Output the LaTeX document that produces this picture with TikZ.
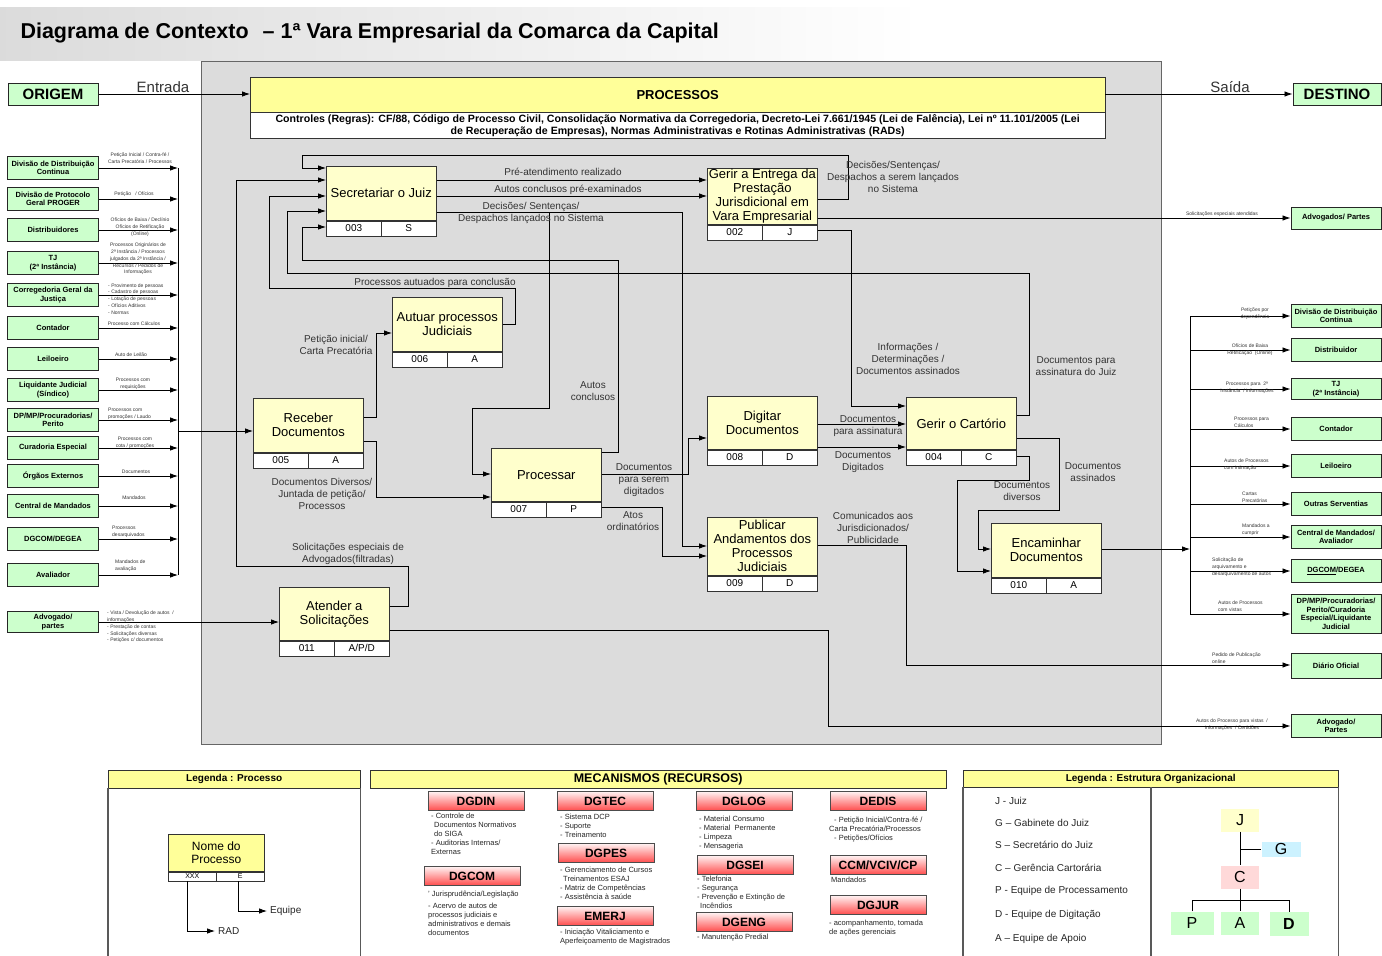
\documentclass[tikz,border=0pt]{standalone}
\usepackage{fontspec}
\setmainfont{Liberation Sans}
\usetikzlibrary{arrows.meta,positioning}

\definecolor{panelgray}{HTML}{DCDCDC}
\definecolor{procfill}{HTML}{FFFFCC}
\definecolor{headfill}{HTML}{FFFF99}
\definecolor{extgreen}{HTML}{CCFFCC}
\definecolor{orgblue}{HTML}{CCF2FF}
\definecolor{orgpink}{HTML}{FFD9D9}

\newcommand{\fsz}[2]{\fontsize{#1}{#2}\selectfont}

\tikzset{
  proc/.style={draw=black!80, fill=procfill, line width=0.6pt, anchor=north west,
    minimum width=110pt, minimum height=54pt, inner sep=0pt, align=center, font=\fsz{13}{14}},
  stripbox/.style={draw=black!80, fill=white, line width=0.6pt, minimum width=55pt,
    minimum height=15pt, inner sep=0pt, font=\fsz{10}{11}},
  extbox/.style={draw=black!85, fill=extgreen, line width=1pt, minimum width=91pt,
    minimum height=23pt, inner sep=1pt, align=center, font=\bfseries\fsz{7.5}{8.5}},
  flow/.style={draw=black, line width=0.8pt, -{Latex[length=8pt,width=5.5pt]}},
  lineonly/.style={draw=black, line width=0.8pt},
  lbl/.style={font=\fsz{10}{12}, text=black!80, align=center, inner sep=0pt},
  tinylbl/.style={font=\fsz{5}{6.8}, text=black!80, align=center, inner sep=0pt},
  headbar/.style={draw=black!80, fill=headfill, anchor=north west, inner sep=0pt,
    font=\bfseries\fsz{10}{11}},
  legline/.style={draw=gray!70!black, line width=1.2pt},
  mech/.style={draw=black!70, top color=red!5, middle color=red!30, bottom color=red!70,
    minimum width=96pt, minimum height=19pt, inner sep=0pt, font=\bfseries\fsz{12}{13}},
  mechtxt/.style={anchor=north west, align=left, inner sep=0pt, font=\fsz{7.5}{9}, text=black!85},
  orgbox/.style={minimum width=38pt, minimum height=23pt, inner sep=0pt, font=\fsz{16}{16}},
  legtxt/.style={anchor=west, inner sep=0pt, font=\fsz{10}{11}, text=black!85},
}

% process box with RAD / team strip below
\newcommand{\procbox}[7]{%
  \node[proc, minimum height=#4] (#1) at (#2,#3) {#5};
  \node[stripbox, anchor=north west] (#1r) at (#1.south west) {#6};
  \node[stripbox, anchor=north east] (#1e) at (#1.south east) {#7};
}

\begin{document}
\begin{tikzpicture}[x=1pt,y=-1pt]
\useasboundingbox (0,0) rectangle (1382,956);
\fill[white] (0,0) rectangle (1382,956);

%% Title
\shade[left color=gray!28, right color=white] (0,7) rectangle (922,60);
\node[anchor=west, font=\bfseries\fsz{21.5}{22}] (title) at (17,33)
  {Diagrama de Contexto\hspace{14pt}– 1ª Vara Empresarial da Comarca da Capital};

%% Grey panel
\filldraw[fill=panelgray, draw=gray!80!black] (201,61) rectangle (1161,744);

% PROCESSOS + controles
\node[headbar, minimum width=855pt, minimum height=35pt, font=\bfseries\fsz{13}{14}] (processos) at (250,77) {PROCESSOS};
\node[draw=black!80, fill=white, anchor=north, minimum width=855pt, minimum height=26pt, inner sep=1pt,
  align=center, font=\bfseries\fsz{10.6}{12}] (controles) at (processos.south)
  {Controles (Regras): CF/88, Código de Processo Civil, Consolidação Normativa da Corregedoria, Decreto-Lei 7.661/1945 (Lei de Falência), Lei nº 11.101/2005 (Lei\\
   de Recuperação de Empresas), Normas Administrativas e Rotinas Administrativas (RADs)};

% origem / destino
\node[extbox, minimum width=90pt, minimum height=22pt, font=\bfseries\fsz{15}{16}] (origem) at (53,94) {ORIGEM};
\node[extbox, minimum width=88pt, minimum height=22pt, font=\bfseries\fsz{15}{16}] (destino) at (1337,94) {DESTINO};
\node[lbl, font=\fsz{15}{16}] (entrada) at (163,87) {Entrada};
\node[lbl, font=\fsz{15}{16}] (saida) at (1230,87) {Saída};
\draw[flow] (origem.east) -- (processos.west|-origem.east);
\draw[flow] (processos.east|-destino.west) -- (destino.west);

%% Processes
\procbox{p003}{326}{166}{54pt}{Secretariar o Juiz}{003}{S}
\procbox{p002}{707}{168}{56pt}{\fsz{13}{13.5}Gerir a Entrega da\\Prestação\\Jurisdicional em\\Vara Empresarial}{002}{J}
\procbox{p006}{392}{297}{54pt}{Autuar processos\\Judiciais}{006}{A}
\procbox{p005}{253}{398}{54pt}{Receber\\Documentos}{005}{A}
\procbox{p007}{491}{448}{53pt}{Processar}{007}{P}
\procbox{p011}{279}{587}{53pt}{Atender a\\Solicitações}{011}{A/P/D}
\procbox{p008}{707}{396}{53pt}{Digitar\\Documentos}{008}{D}
\procbox{p004}{906}{397}{52pt}{Gerir o Cartório}{004}{C}
\procbox{p009}{707}{517}{58pt}{\fsz{13}{13.5}Publicar\\Andamentos dos\\Processos\\Judiciais}{009}{D}
\procbox{p010}{991}{523}{54pt}{Encaminhar\\Documentos}{010}{A}

%% Origins (left)
\node[extbox] (inDivDist) at (53,168) {Divisão de Distribuição\\Continua};
\node[extbox] (inProger) at (53,199) {Divisão de Protocolo\\Geral PROGER};
\node[extbox] (inDistrib) at (53,230) {Distribuidores};
\node[extbox] (inTJ) at (53,263) {TJ\\(2ª Instância)};
\node[extbox] (inCorreg) at (53,295) {Corregedoria Geral da\\Justiça};
\node[extbox] (inContador) at (53,328) {Contador};
\node[extbox] (inLeiloeiro) at (53,359) {Leiloeiro};
\node[extbox] (inLiquid) at (53,390) {Liquidante Judicial\\(Síndico)};
\node[extbox] (inDPMP) at (53,420) {DP/MP/Procuradorias/\\Perito};
\node[extbox] (inCurad) at (53,448) {Curadoria Especial};
\node[extbox] (inOrgaos) at (53,476) {Órgãos Externos};
\node[extbox] (inCentral) at (53,506) {Central de Mandados};
\node[extbox] (inDgcom) at (53,539) {DGCOM/DEGEA};
\node[extbox] (inAval) at (53,575) {Avaliador};
\node[extbox, minimum height=21pt] (inAdv) at (53,622) {Advogado/\\partes};

\coordinate (busLtop) at (178,168);
\coordinate (busLbot) at (178,575);
\draw[lineonly] (busLtop) -- (busLbot);
\foreach \nm in {inDivDist,inProger,inDistrib,inTJ,inCorreg,inContador,inLeiloeiro,inLiquid,
  inDPMP,inCurad,inOrgaos,inCentral,inDgcom,inAval}
  \draw[flow] (\nm.east) -- (\nm.east-|busLtop);
\draw[flow] (busLtop|-0,431) -- (p005.west|-0,431);
\draw[flow] (inAdv.east) -- (p011.west|-inAdv.east);

% left labels
\node[tinylbl] (lbDivDist) at (140,158) {Petição Inicial / Contra-fé /\\Carta Precatória / Processos};
\node[tinylbl] (lbProger) at (134,194) {Petição \ \ / Ofícios};
\node[tinylbl] (lbDistrib) at (140,227) {Ofícios de Baixa / Declínio\\Ofícios de Retificação\\(Online)};
\node[tinylbl] (lbTJ) at (138,259) {Processos Originários de\\2ª Instância / Processos\\julgados da 2ª Instância /\\Recursos / Pedidos de\\Informações};
\node[tinylbl, anchor=west, align=left] (lbCorreg) at (108,299) {- Provimento de pessoas\\- Cadastro de pessoas\\- Lotação de pessoas\\- Ofícios Aditivos\\- Normas};
\node[tinylbl] (lbContador) at (134,324) {Processo com Cálculos};
\node[tinylbl] (lbLeiloeiro) at (131,355) {Auto de Leilão};
\node[tinylbl] (lbLiquid) at (133,384) {Processos com\\requisições};
\node[tinylbl, anchor=west, align=left] (lbDPMP) at (108,414) {Processos com\\promoções / Laudo};
\node[tinylbl] (lbCurad) at (135,443) {Processos com\\cota / promoções};
\node[tinylbl] (lbOrgaos) at (136,472) {Documentos};
\node[tinylbl] (lbCentral) at (134,498) {Mandados};
\node[tinylbl, anchor=west, align=left] (lbDgcom) at (112,532) {Processos\\desarquivados};
\node[tinylbl, anchor=west, align=left] (lbAval) at (115,566) {Mandados de\\avaliação};
\node[tinylbl, anchor=west, align=left] (lbAdv) at (107,627) {- Vista / Devolução de autos \ /\\informações\\- Prestação de contas\\- Solicitações diversas\\- Petições c/ documentos};

%% Destinations (right)
\node[extbox, minimum width=90pt, minimum height=22pt] (outAdvA) at (1336,218) {Advogados/ Partes};
\node[extbox, minimum width=90pt] (outDivDist) at (1336,316) {Divisão de Distribuição\\Continua};
\node[extbox, minimum width=90pt] (outDistrib) at (1336,350) {Distribuidor};
\node[extbox, minimum width=90pt, minimum height=21pt] (outTJ) at (1336,389) {TJ\\(2ª Instância)};
\node[extbox, minimum width=90pt] (outContador) at (1336,429) {Contador};
\node[extbox, minimum width=90pt] (outLeiloeiro) at (1336,466) {Leiloeiro};
\node[extbox, minimum width=90pt] (outOutras) at (1336,504) {Outras Serventias};
\node[extbox, minimum width=90pt] (outCentral) at (1336,537) {Central de Mandados/\\Avaliador};
\node[extbox, minimum width=90pt] (outDgcom) at (1336,571) {\underline{DGCOM}/DEGEA};
\node[extbox, minimum width=90pt, minimum height=39pt] (outDPMP) at (1336,614) {DP/MP/Procuradorias/\\Perito/Curadoria\\Especial/Liquidante\\Judicial};
\node[extbox, minimum width=90pt, minimum height=25pt] (outDiario) at (1336,666) {Diário Oficial};
\node[extbox, minimum width=90pt] (outAdvB) at (1336,726) {Advogado/\\Partes};

\coordinate (busRtop) at (1190,316);
\coordinate (busRbot) at (1190,614);
\draw[lineonly] (busRtop) -- (busRbot);
\foreach \nm in {outDivDist,outDistrib,outTJ,outContador,outLeiloeiro,outOutras,outCentral,outDgcom,outDPMP}
  \draw[flow] (busRtop|-\nm.west) -- (\nm.west);

% right labels
\node[tinylbl] (lbrAdvA) at (1222,214) {Solicitações especiais atendidas};
\node[tinylbl] (lbrDivDist) at (1255,314) {Petições por\\dependência};
\node[tinylbl] (lbrDistrib) at (1250,350) {Ofícios de Baixa\\Retificação \ (Online)};
\node[tinylbl] (lbrTJ) at (1247,388) {Processos para \ 2ª\\Instância \ / Informações};
\node[tinylbl, anchor=west, align=left] (lbrContador) at (1234,422) {Processos para\\Cálculos};
\node[tinylbl, anchor=west, align=left] (lbrLeiloeiro) at (1224,465) {Autos de Processos\\com intimação};
\node[tinylbl, anchor=west, align=left] (lbrOutras) at (1242,497) {Cartas\\Precatórias};
\node[tinylbl, anchor=west, align=left] (lbrCentral) at (1242,530) {Mandados a\\cumprir};
\node[tinylbl, anchor=west, align=left] (lbrDgcom) at (1212,567) {Solicitação de\\arquivamento e\\desarquivamento de autos};
\node[tinylbl, anchor=west, align=left] (lbrDPMP) at (1218,606) {Autos de Processos\\com vistas};
\node[tinylbl, anchor=west, align=left] (lbrDiario) at (1212,658) {Pedido de Publicação\\online};
\node[tinylbl] (lbrAdvB) at (1232,725) {Autos do Processo para vistas \ /\\Informações \ / Certidões};

%% Internal flows
% 002 -> 003 (loop over the top)
\draw[flow] (p002.east|-0,199) -| (848,155) -| (302,168) -- (p003.west|-0,168);
% 011 -> 003
\draw[flow] (p011.east|-0,606) -| (408,566) -| (236,180) -- (p003.west|-0,180);
% 006 -> 003
\draw[flow] (p006.east|-0,324) -| (515,288) -| (269,196) -- (p003.west|-0,196);
% 004 -> 003
\draw[flow] (p004.east|-0,415) -| (1029,273) -| (287,211) -- (p003.west|-0,211);
% 007 -> 003
\draw[flow] (p007.east|-0,452) -| (618,260) -| (302,227) -- (p003.west|-0,227);
% 003 -> 002
\draw[flow] (p003.east|-0,180) -- (p002.west|-0,180);
\draw[flow] (p003.east|-0,196) -- (p002.west|-0,196);
% 003 -> 009 / 007
\draw[flow] (p003.east|-0,212) -| (682,546) -- (p009.west|-0,546);
\draw[flow] (p003.east|-0,212) -| (549,408) -| (472,474) -- (p007.west|-0,474);
% 007 -> 008 / 009
\draw[flow] (p007.east|-0,474) -| (688,438) -- (p008.west|-0,438);
\draw[flow] (p007.east|-0,507) -| (662,556) -- (p009.west|-0,556);
% 005 -> 006 / 007
\draw[flow] (p005.east|-0,417) -| (376,333) -- (p006.west|-0,333);
\draw[flow] (p005.east|-0,441) -| (376,497) -- (p007.west|-0,497);
% 008 -> 004
\draw[flow] (p008.east|-0,424) -- (p004.west|-0,424);
\draw[flow] (p008.east|-0,447) -- (p004.west|-0,447);
% 002 -> 004
\draw[flow] (p002.east|-0,230) -| (851,406) -- (p004.west|-0,406);
% 004 -> 010
\draw[flow] (p004.east|-0,438) -| (1059,510) -| (978,549) -- (p010.west|-0,549);
\draw[flow] (p004.east|-0,456) -| (1029,480) -| (957,571) -- (p010.west|-0,571);
% outputs
\draw[flow] (p010.east|-0,549) -- (busRtop|-0,549);
\draw[flow] (p002.east|-outAdvA.west) -- (outAdvA.west);
\draw[flow] (p009.east|-0,545) -| (906,665) -- (outDiario.west|-0,665);
\draw[flow] (p011.east|-0,630) -| (828,726) -- (outAdvB.west);

% flow labels
\node[lbl] (lbPre) at (563,172) {Pré-atendimento realizado};
\node[lbl] (lbAutosPre) at (568,190) {Autos conclusos pré-examinados};
\node[lbl] (lbDecLanc) at (531,213) {Decisões/ Sentenças/\\Despachos lançados no Sistema};
\node[lbl] (lbDecSer) at (893,177) {Decisões/Sentenças/\\Despachos a serem lançados\\no Sistema};
\node[lbl] (lbAutuados) at (435,283) {Processos autuados para conclusão};
\node[lbl] (lbPeticao) at (336,345) {Petição inicial/\\Carta Precatória};
\node[lbl] (lbAutosConc) at (593,391) {Autos\\conclusos};
\node[lbl] (lbDocDiv) at (322,494) {Documentos Diversos/\\Juntada de petição/\\Processos};
\node[lbl] (lbDigitados) at (644,480) {Documentos\\para serem\\digitados};
\node[lbl] (lbAtos) at (633,521) {Atos\\ordinatórios};
\node[lbl] (lbSolic) at (348,554) {Solicitações especiais de\\Advogados(filtradas)};
\node[lbl] (lbInfo) at (908,359) {Informações /\\Determinações /\\Documentos assinados};
\node[lbl] (lbAssJuiz) at (1076,366) {Documentos para\\assinatura do Juiz};
\node[lbl] (lbParaAss) at (868,426) {Documentos\\para assinatura};
\node[lbl] (lbDigit) at (863,462) {Documentos\\Digitados};
\node[lbl] (lbAssin) at (1093,472) {Documentos\\assinados};
\node[lbl] (lbDiversos) at (1022,491) {Documentos\\diversos};
\node[lbl] (lbComunic) at (873,528) {Comunicados aos\\Jurisdicionados/\\Publicidade};

%% Legenda : Processo
\node[headbar, minimum width=252pt, minimum height=18pt] (legProcHead) at (108,770) {Legenda : Processo};
\draw[legline] (legProcHead.south west) -- ++(0,180);
\draw[legline] (legProcHead.south east) -- ++(0,180);
\node[proc, fill=headfill, minimum width=96pt, minimum height=37pt, font=\fsz{12}{13}] (legProc) at (168,834) {Nome do\\Processo};
\node[stripbox, minimum width=48pt, minimum height=9pt, font=\fsz{7}{7}, anchor=north west] (legProcR) at (legProc.south west) {XXX};
\node[stripbox, minimum width=48pt, minimum height=9pt, font=\fsz{7}{7}, anchor=north east] (legProcE) at (legProc.south east) {E};
\node[legtxt] (legRad) at (218,931) {RAD};
\node[legtxt] (legEquipe) at (270,911) {Equipe};
\draw[flow, shorten >=3pt] (legProcR.south-|187,0) |- (legRad.west);
\draw[flow, shorten >=3pt] (legProcE.south-|238,0) |- (legEquipe.west);

%% Mecanismos
\node[headbar, minimum width=576pt, minimum height=18pt, font=\bfseries\fsz{12.5}{13}] (mechHead) at (370,770) {MECANISMOS (RECURSOS)};
\node[mech] (mDgdin) at (476,801) {DGDIN};
\node[mech] (mDgtec) at (605,801) {DGTEC};
\node[mech] (mDglog) at (744,801) {DGLOG};
\node[mech] (mDedis) at (878,801) {DEDIS};
\node[mech] (mDgcom) at (472,876) {DGCOM};
\node[mech] (mDgpes) at (606,853) {DGPES};
\node[mech] (mEmerj) at (605,916) {EMERJ};
\node[mech] (mDgsei) at (745,865) {DGSEI};
\node[mech] (mDgeng) at (744,922) {DGENG};
\node[mech] (mCcm) at (878,865) {CCM/VCIV/CP};
\node[mech] (mDgjur) at (878,905) {DGJUR};

\node[mechtxt] (tDgdin) at (431,813) {- Controle de\\\hspace{3pt}Documentos Normativos\\\hspace{3pt}do SIGA\\- Auditorias Internas/\\Externas};
\node[mechtxt] (tDgcom) at (428,891) {' Jurisprudência/Legislação\\[3pt]- Acervo de autos de\\processos judiciais e\\administrativos e demais\\documentos};
\node[mechtxt] (tDgtec) at (560,814) {- Sistema DCP\\- Suporte\\- Treinamento};
\node[mechtxt] (tDgpes) at (560,867) {- Gerenciamento de Cursos\\\hspace{3pt}Treinamentos ESAJ\\- Matriz de Competências\\- Assistência à saúde};
\node[mechtxt] (tEmerj) at (560,929) {- Iniciação Vitaliciamento e\\Aperfeiçoamento de Magistrados};
\node[mechtxt] (tDglog) at (699,816) {- Material Consumo\\- Material \ Permanente\\- Limpeza\\- Mensageria};
\node[mechtxt] (tDgsei) at (697,876) {- Telefonia\\- Segurança\\- Prevenção e Extinção de\\\hspace{3pt}Incêndios};
\node[mechtxt] (tDgeng) at (697,934) {- Manutenção Predial};
\node[mechtxt] (tDedis) at (829,817) {\hspace{5pt}- Petição Inicial/Contra-fé /\\Carta Precatória/Processos\\\hspace{5pt}- Petições/Ofícios};
\node[mechtxt] (tCcm) at (831,877) {Mandados};
\node[mechtxt] (tDgjur) at (829,920) {- acompanhamento, tomada\\de ações gerenciais};

%% Legenda : Estrutura Organizacional
\node[headbar, minimum width=375pt, minimum height=17pt] (orgHead) at (963,770) {Legenda : Estrutura Organizacional};
\draw[legline] (orgHead.south west) -- ++(0,180);
\draw[legline] (orgHead.south east) -- ++(0,180);
\draw[legline] ([xshift=188pt]orgHead.south west) -- ++(0,180);
\node[legtxt] (legJ) at (995,801) {J - Juiz};
\node[legtxt] (legG) at (995,823) {G – Gabinete do Juiz};
\node[legtxt] (legS) at (995,845) {S – Secretário do Juiz};
\node[legtxt] (legC) at (995,868) {C – Gerência Cartorária};
\node[legtxt] (legP) at (995,891) {P - Equipe de Processamento};
\node[legtxt] (legD) at (995,915) {D - Equipe de Digitação};
\node[legtxt] (legA) at (995,939) {A – Equipe de Apoio};

\node[orgbox, fill=procfill] (orgJ) at (1240,820) {J};
\node[orgbox, fill=orgblue, minimum width=39pt, minimum height=15pt] (orgG) at (1281,849) {G};
\node[orgbox, fill=orgpink] (orgC) at (1240,877) {C};
\node[orgbox, fill=extgreen, minimum width=43pt] (orgP) at (1192,923) {P};
\node[orgbox, fill=extgreen] (orgA) at (1240,923) {A};
\node[orgbox, fill=extgreen, minimum width=39pt, minimum height=24pt, font=\bfseries\fsz{16}{16}] (orgD) at (1289,924) {D};
\draw[lineonly] (orgJ.south) -- (orgC.north);
\draw[lineonly] (orgJ.south|-orgG.west) -- (orgG.west);
\draw[lineonly] (orgC.south) -- (orgA.north);
\draw[lineonly] (orgP.north) -- ++(0,-11) -| (orgD.north);

\end{tikzpicture}
\end{document}
